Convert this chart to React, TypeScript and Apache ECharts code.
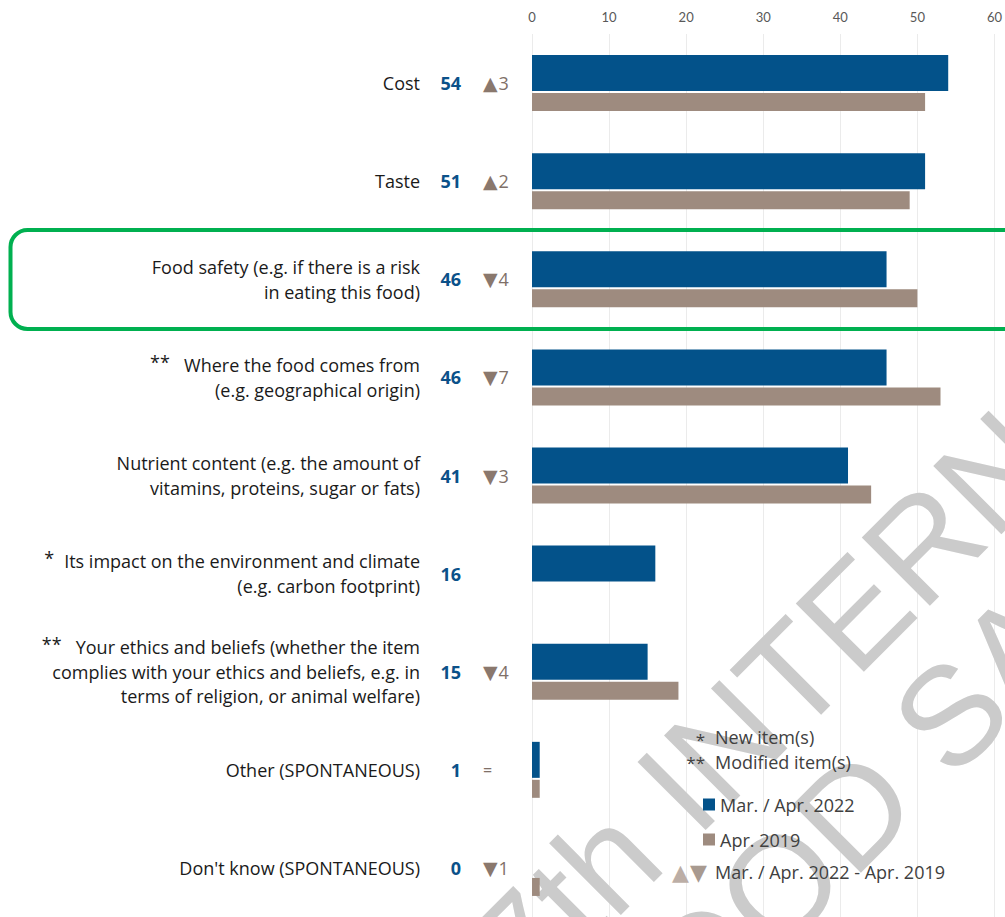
import React, { useEffect, useRef } from 'react';
import * as echarts from 'echarts';

const categories = [
  'Cost',
  'Taste',
  'Food safety (e.g. if there is a risk\nin eating this food)',
  'Where the food comes from\n(e.g. geographical origin)',
  'Nutrient content (e.g. the amount of\nvitamins, proteins, sugar or fats)',
  'Its impact on the environment and climate\n(e.g. carbon footprint)',
  'Your ethics and beliefs (whether the item\ncomplies with your ethics and beliefs, e.g. in\nterms of religion, or animal welfare)',
  'Other (SPONTANEOUS)',
  "Don't know (SPONTANEOUS)",
];
const itemMarks = ['', '', '', '**', '', '*', '**', '', ''];
const values2022 = [54, 51, 46, 46, 41, 16, 15, 1, 0];
const values2019: (number | null)[] = [51, 49, 50, 53, 44, null, 19, 1, 1];
const changes: (number | null)[] = [3, 2, -4, -7, -3, null, -4, 0, -1];
const legendNames = ['Mar. / Apr. 2022', 'Apr. 2019'];
const noteMarks = ['*', '**'];
const noteLabels = ['New item(s)', 'Modified item(s)'];
const changeLegend = 'Mar. / Apr. 2022 - Apr. 2019';
const watermarkLines = ['27th INTERNAL', 'FOOD SAFETY'];

const FONT = "'Open Sans', 'DejaVu Sans', sans-serif";
const TICK_FONT = "Lato, 'DejaVu Sans', sans-serif";
const BLUE = '#03528a';
const BROWN = '#9e8b7f';
const FS = 18;

export default function App() {
  const ref = useRef<HTMLDivElement>(null);
  useEffect(() => {
    if (!ref.current) return;
    const chart = echarts.init(ref.current, undefined, { renderer: 'svg' });
    const hidden = { show: false };
    const astStyle = (w: number) => ({
      fontSize: 18,
      lineHeight: 12,
      verticalAlign: 'top',
      width: w,
      align: 'left',
      color: '#1a1a1a',
      fontFamily: FONT,
    });
    const option: any = {
      animation: false,
      textStyle: { fontFamily: FONT },
      grid: { left: 532, right: 8, top: 34, bottom: -5, containLabel: false },
      xAxis: {
        type: 'value',
        position: 'top',
        min: 0,
        max: 60,
        interval: 10,
        axisLine: hidden,
        axisTick: hidden,
        axisLabel: { color: '#595959', fontSize: 13, margin: 11, fontFamily: TICK_FONT },
        splitLine: { show: true, lineStyle: { color: '#ebebeb', width: 1 } },
      },
      yAxis: [
        {
          type: 'category',
          data: categories,
          inverse: true,
          axisLine: hidden,
          axisTick: hidden,
          axisLabel: {
            margin: 112,
            fontSize: FS,
            lineHeight: 24.5,
            color: '#1a1a1a',
            fontFamily: FONT,
            formatter: (v: string, i: number) => {
              const m = itemMarks[i];
              if (!m) return v;
              return `{${m.length === 2 ? 'ast2' : 'ast1'}|${m}}${v}`;
            },
            rich: { ast1: astStyle(20), ast2: astStyle(34) },
          },
        },
        {
          type: 'category',
          data: categories,
          inverse: true,
          position: 'left',
          axisLine: hidden,
          axisTick: hidden,
          axisLabel: {
            margin: 71,
            fontSize: 18,
            fontWeight: 'bold',
            color: '#0b5189',
            fontFamily: FONT,
            formatter: (_v: string, i: number) => String(values2022[i]),
          },
        },
        {
          type: 'category',
          data: categories,
          inverse: true,
          position: 'left',
          axisLine: hidden,
          axisTick: hidden,
          axisLabel: {
            margin: 49,
            align: 'left',
            fontSize: 18,
            color: '#7f7068',
            fontFamily: FONT,
            formatter: (_v: string, i: number) => {
              const c = changes[i];
              if (c === null) return '';
              if (c === 0) return '{eq|=}';
              return `{tri|${c > 0 ? '▲' : '▼'}}{n|${Math.abs(c)}}`;
            },
            rich: {
              tri: { fontSize: 19, color: '#8a786d', fontFamily: "'DejaVu Sans'", padding: [0, 1, 0, 0] },
              n: { fontSize: 18, color: '#7f7068', fontFamily: FONT },
              eq: { fontSize: 16, color: '#7f7068', fontFamily: FONT },
            },
          },
        },
      ],
      legend: {
        data: legendNames,
        orient: 'vertical',
        left: 698,
        top: 789,
        icon: 'rect',
        itemWidth: 12,
        itemHeight: 12,
        itemGap: 14,
        textStyle: { fontSize: FS, color: '#404040', lineHeight: 21, fontFamily: FONT },
      },
      series: [
        {
          type: 'bar',
          name: legendNames[0],
          data: values2022,
          barWidth: 36,
          barGap: '5.5%',
          itemStyle: { color: BLUE },
          z: 3,
        },
        {
          type: 'bar',
          name: legendNames[1],
          data: values2019,
          barWidth: 18,
          barGap: '5.5%',
          itemStyle: { color: BROWN },
          z: 3,
        },
      ],
      graphic: [
        {
          type: 'text',
          x: 442,
          y: 1025,
          rotation: Math.PI / 4,
          z: 1,
          silent: true,
          style: {
            text: watermarkLines[0],
            font: "140px 'Liberation Sans'",
            fill: '#cbcbcb',
            textAlign: 'left',
            textVerticalAlign: 'middle',
          },
        },
        {
          type: 'text',
          x: 604,
          y: 1061,
          rotation: Math.PI / 4,
          z: 1,
          silent: true,
          style: {
            text: watermarkLines[1],
            font: "140px 'Liberation Sans'",
            fill: '#cbcbcb',
            textAlign: 'left',
            textVerticalAlign: 'middle',
          },
        },
        {
          type: 'text',
          x: 705,
          y: 739,
          z: 10,
          style: { text: noteMarks[0], font: `17px ${FONT}`, fill: '#404040', textAlign: 'right', textVerticalAlign: 'middle' },
        },
        {
          type: 'text',
          x: 715,
          y: 737,
          z: 10,
          style: { text: noteLabels[0], font: `${FS}px ${FONT}`, fill: '#404040', textAlign: 'left', textVerticalAlign: 'middle' },
        },
        {
          type: 'text',
          x: 705,
          y: 762,
          z: 10,
          style: { text: noteMarks[1], font: `17px ${FONT}`, fill: '#404040', textAlign: 'right', textVerticalAlign: 'middle' },
        },
        {
          type: 'text',
          x: 715,
          y: 762,
          z: 10,
          style: { text: noteLabels[1], font: `${FS}px ${FONT}`, fill: '#404040', textAlign: 'left', textVerticalAlign: 'middle' },
        },
        {
          type: 'text',
          x: 689,
          y: 872,
          z: 10,
          style: { text: '▲', font: "22px 'DejaVu Sans'", fill: '#bcaea6', textAlign: 'right', textVerticalAlign: 'middle' },
        },
        {
          type: 'text',
          x: 707,
          y: 872,
          z: 10,
          style: { text: '▼', font: "22px 'DejaVu Sans'", fill: '#a89a90', textAlign: 'right', textVerticalAlign: 'middle' },
        },
        {
          type: 'text',
          x: 715,
          y: 872,
          z: 10,
          style: { text: changeLegend, font: `${FS}px ${FONT}`, fill: '#404040', textAlign: 'left', textVerticalAlign: 'middle' },
        },
        {
          type: 'rect',
          z: 20,
          silent: true,
          shape: { x: 10.5, y: 230, width: 1030, height: 99, r: 17 },
          style: { fill: 'transparent', stroke: '#00b050', lineWidth: 4 },
        },
      ],
    };
    chart.setOption(option);
    return () => chart.dispose();
  }, []);
  return (
    <div
      ref={ref}
      style={{ position: 'absolute', left: 0, top: 0, width: 1005, height: 917 }}
    />
  );
}
